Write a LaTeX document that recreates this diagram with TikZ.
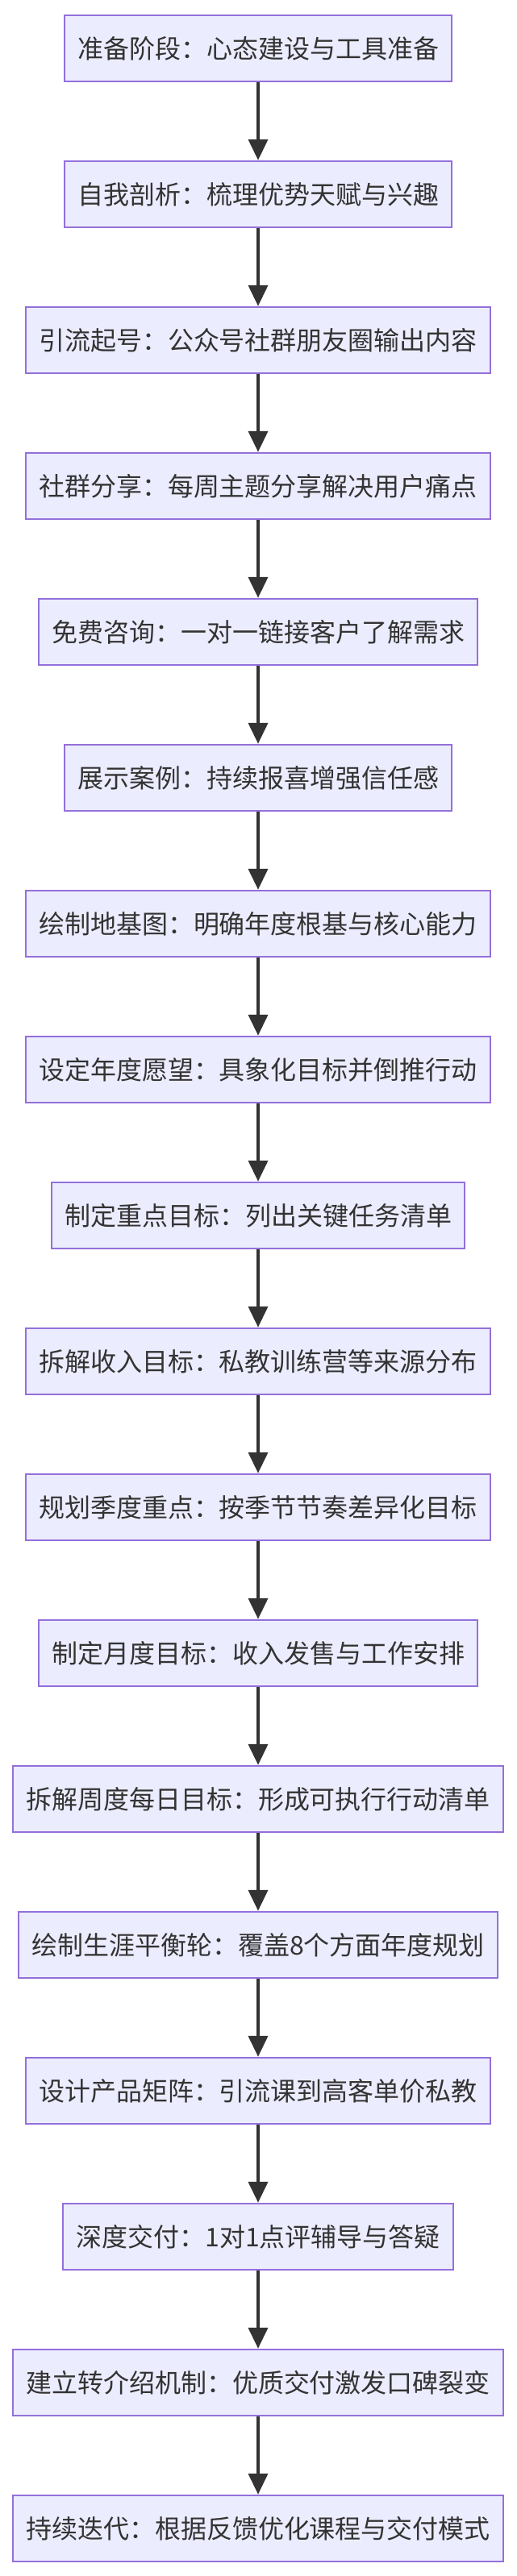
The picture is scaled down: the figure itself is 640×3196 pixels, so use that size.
\documentclass[tikz,border=0pt]{standalone}
\usepackage{fontspec}
\setmainfont{Noto Sans CJK SC}
\usetikzlibrary{arrows.meta}
\definecolor{boxfill}{HTML}{ECECFF}
\definecolor{boxline}{HTML}{9370DB}
\definecolor{ink}{HTML}{333333}
\begin{document}
\begin{tikzpicture}[x=1pt,y=1pt,
  stepbox/.style={draw=boxline,fill=boxfill,line width=2.5pt,minimum height=82pt,inner xsep=16pt,text=ink,font=\fontsize{32}{38}\selectfont},
  flow/.style={draw=ink,line width=4pt,-{Triangle[length=26pt,width=24pt]}}]
\useasboundingbox (0,0) rectangle (640,-3196);
\foreach \i/\t in {1/准备阶段：心态建设与工具准备,2/自我剖析：梳理优势天赋与兴趣,3/引流起号：公众号社群朋友圈输出内容,4/社群分享：每周主题分享解决用户痛点,5/免费咨询：一对一链接客户了解需求,6/展示案例：持续报喜增强信任感,7/绘制地基图：明确年度根基与核心能力,8/设定年度愿望：具象化目标并倒推行动,9/制定重点目标：列出关键任务清单,10/拆解收入目标：私教训练营等来源分布,11/规划季度重点：按季节节奏差异化目标,12/制定月度目标：收入发售与工作安排,13/拆解周度每日目标：形成可执行行动清单,14/绘制生涯平衡轮：覆盖8个方面年度规划,15/设计产品矩阵：引流课到高客单价私教,16/深度交付：1对1点评辅导与答疑,17/建立转介绍机制：优质交付激发口碑裂变,18/持续迭代：根据反馈优化课程与交付模式}
  \node[stepbox] (n\i) at (320,{-60-181*(\i-1)}) {\t};
\foreach \i [evaluate=\i as \j using int(\i+1)] in {1,...,17}
  \draw[flow] (n\i) -- (n\j);
\end{tikzpicture}
\end{document}
